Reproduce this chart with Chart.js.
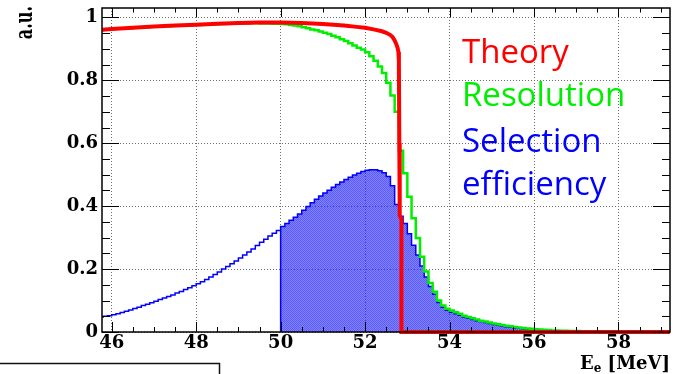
<!DOCTYPE html>
<html><head><meta charset="utf-8">
<script src="https://cdn.jsdelivr.net/npm/chart.js@4.4.1/dist/chart.umd.min.js"></script>
<style>html,body{margin:0;padding:0;background:#fff;overflow:hidden}canvas{display:block}</style>
</head><body>
<canvas id="c" width="677" height="374"></canvas>
<script>
// ---- data ----
const binStart = 45.7;   // lower edge of first bin [MeV]
const binWidth = 0.1;    // bin width [MeV]
// "Resolution" histogram (green), one value per bin
const resolution = [
 0.960,0.961,0.962,0.963,0.964,0.965,0.965,0.966,0.967,0.968,
 0.968,0.969,0.970,0.970,0.971,0.972,0.972,0.973,0.974,0.974,
 0.975,0.975,0.976,0.976,0.977,0.977,0.978,0.978,0.979,0.979,
 0.980,0.980,0.980,0.981,0.981,0.981,0.982,0.982,0.981,0.981,
 0.981,0.980,0.980,0.979,0.978,0.976,0.974,0.972,0.969,0.966,
 0.962,0.959,0.955,0.951,0.947,0.942,0.937,0.931,0.925,0.918,
 0.911,0.904,0.898,0.889,0.877,0.862,0.844,0.823,0.792,0.752,
 0.700,0.576,0.505,0.430,0.362,0.299,0.239,0.192,0.156,0.128,
 0.100,0.084,0.074,0.068,0.063,0.058,0.052,0.048,0.044,0.040,
 0.036,0.033,0.030,0.027,0.025,0.022,0.020,0.018,0.016,0.014,
 0.013,0.011,0.010,0.009,0.008,0.007,0.006,0.005,0.005,0.004,
 0.004,0.003,0.003,0.003,0.002,0.002,0.002,0.002,0.001,0.001,
 0.001,0.001,0.001,0,0,0,0,0,0,0,
 0,0,0,0,0,0
];
// "Selection efficiency" histogram (blue), one value per bin
const selection = [
 0.048,0.050,0.052,0.055,0.058,0.062,0.066,0.070,0.075,0.079,
 0.084,0.088,0.093,0.098,0.103,0.108,0.113,0.118,0.124,0.129,
 0.135,0.141,0.147,0.153,0.160,0.167,0.175,0.183,0.191,0.200,
 0.208,0.217,0.226,0.235,0.245,0.254,0.264,0.275,0.285,0.295,
 0.305,0.314,0.323,0.335,0.345,0.355,0.365,0.375,0.387,0.399,
 0.411,0.422,0.432,0.442,0.451,0.460,0.469,0.477,0.485,0.492,
 0.499,0.505,0.510,0.514,0.516,0.516,0.513,0.506,0.494,0.465,
 0.405,0.368,0.345,0.312,0.276,0.245,0.210,0.175,0.145,0.120,
 0.094,0.079,0.069,0.063,0.058,0.053,0.048,0.044,0.040,0.036,
 0.033,0.030,0.027,0.024,0.022,0.019,0.017,0.015,0.013,0.012,
 0.010,0.009,0.008,0.006,0.005,0.003,0,0,0,0,
 0,0,0,0,0,0,0,0,0,0,
 0,0,0,0,0,0,0,0,0,0,
 0,0,0,0,0,0
];
// "Theory" curve (red)
const theoryE = [45.77,46.0,46.5,47.0,47.5,48.0,48.5,49.0,49.5,50.0,50.5,51.0,51.5,51.8,52.0,52.2,52.4,52.5,52.6,52.65,52.7,52.74,52.77,52.79,52.80,52.81,52.82,52.86,52.86,59.22];
const theoryY = [0.961,0.963,0.967,0.971,0.974,0.977,0.980,0.982,0.984,0.984,0.982,0.979,0.974,0.970,0.967,0.962,0.956,0.951,0.944,0.938,0.927,0.915,0.903,0.890,0.860,0.600,0.370,0.360,0,0];
const effFillFrom = 50;            // selection histogram is filled from here on
const xTicks = [46,48,50,52,54,56,58];
const yTicks = [0,0.2,0.4,0.6,0.8,1];
const labels = {theory:'Theory', resolution:'Resolution', sel1:'Selection', sel2:'efficiency', x:'E', xSub:'e', xUnit:' [MeV]', y:'a.u.'};
const xRange = [45.77, 59.22];
const yRange = [0, 1.03];

// ---- build datasets ----
const edge = i => Math.round((binStart + i * binWidth) * 1000) / 1000;
function stepPts(vals, from, to) {
  const p = [];
  for (let i = from; i < to; i++) p.push({x: edge(i), y: vals[i]});
  p.push({x: edge(to), y: vals[to - 1]});
  return p;
}
const cutIdx = Math.round((effFillFrom - binStart) / binWidth);
const theoryPts = theoryE.map((e, i) => ({x: e, y: theoryY[i]}));
const resPts = stepPts(resolution, 0, resolution.length);
const selLeft = stepPts(selection, 0, cutIdx);
const selRight = [{x: effFillFrom, y: 0}].concat(stepPts(selection, cutIdx, selection.length));

// fine dithered fill pattern
const pc = document.createElement('canvas'); pc.width = 2; pc.height = 2;
const pctx = pc.getContext('2d');
pctx.fillStyle = 'rgba(40,40,250,0.76)'; pctx.fillRect(0,0,1,1); pctx.fillRect(1,1,1,1);
pctx.fillStyle = 'rgba(40,40,250,0.58)'; pctx.fillRect(1,0,1,1); pctx.fillRect(0,1,1,1);
const ctx0 = document.getElementById('c').getContext('2d');
const pattern = ctx0.createPattern(pc, 'repeat');

const GREEN = '#00ee00', RED = '#ff0000', BLUE = '#0000ff';
const SERIF = '"DejaVu Serif", serif';

const decor = {
  id: 'decor',
  afterDatasetsDraw(chart) {
    const {ctx, chartArea: a, scales: {x, y}} = chart;
    ctx.save();
    ctx.strokeStyle = '#000'; ctx.lineWidth = 1;
    const ln = (x1, y1, x2, y2) => { ctx.beginPath(); ctx.moveTo(x1, y1); ctx.lineTo(x2, y2); ctx.stroke(); };
    // x ticks: major every 2, minor every 0.5
    for (let k = 0; 46 + k * 0.5 <= xRange[1]; k++) {
      const v = 46 + k * 0.5;
      const px = Math.round(x.getPixelForValue(v)) + 0.5;
      const major = k % 4 === 0;
      ln(px, a.bottom, px, a.bottom - (major ? 10 : 5));
      ln(px, a.top, px, a.top + (major ? 9 : 4.5));
    }
    // y ticks: major every 0.2, minor every 0.05
    for (let k = 0; k <= 20; k++) {
      const py = Math.round(y.getPixelForValue(k * 0.05)) + 0.5;
      const major = k % 4 === 0;
      ln(a.left, py, a.left + (major ? 17 : 8), py);
      ln(a.right, py, a.right - (major ? 17 : 8), py);
    }
    // frame
    ctx.lineWidth = 1.5;
    ctx.strokeRect(a.left, a.top, a.right - a.left, a.bottom - a.top);
    ctx.restore();
  },
  afterDraw(chart) {
    const {ctx} = chart;
    ctx.save();
    // annotation texts
    ctx.font = '33px "Open Sans"';
    ctx.textAlign = 'left'; ctx.textBaseline = 'alphabetic';
    ctx.fillStyle = RED;   ctx.fillText(labels.theory, 462, 62.5);
    ctx.fillStyle = GREEN; ctx.fillText(labels.resolution, 462, 106);
    ctx.fillStyle = BLUE;  ctx.fillText(labels.sel1, 462, 152);
    ctx.fillText(labels.sel2, 462, 194.5);
    // axis titles
    ctx.fillStyle = '#000';
    ctx.font = 'bold 18px ' + SERIF;
    ctx.textAlign = 'right';
    const unitW = ctx.measureText(labels.xUnit).width;
    ctx.fillText(labels.xUnit, 670, 369);
    ctx.font = 'bold 12px ' + SERIF;
    const subW = ctx.measureText(labels.xSub).width;
    ctx.fillText(labels.xSub, 670 - unitW, 372);
    ctx.font = 'bold 18px ' + SERIF;
    ctx.fillText(labels.x, 670 - unitW - subW, 369);
    ctx.save();
    ctx.translate(32, 6);
    ctx.scale(1.5, 1);
    ctx.rotate(-Math.PI / 2);
    ctx.font = 'bold 16px ' + SERIF;
    ctx.textAlign = 'right';
    ctx.fillText(labels.y, 0, 0);
    ctx.restore();
    // box edge at bottom-left
    ctx.strokeStyle = '#111'; ctx.lineWidth = 1.5;
    ctx.beginPath(); ctx.moveTo(0, 363.5); ctx.lineTo(219.5, 363.5); ctx.lineTo(219.5, 374); ctx.stroke();
    ctx.restore();
  }
};

new Chart(ctx0, {
  type: 'line',
  data: {
    datasets: [
      {label: labels.theory, data: theoryPts, borderColor: RED, borderWidth: 4, pointRadius: 0, tension: 0, fill: false, order: 0, clip: {left: 0, right: 0, top: 5, bottom: 3}},
      {label: labels.resolution, data: resPts, stepped: true, borderColor: GREEN, borderWidth: 2.5, pointRadius: 0, fill: false, order: 1},
      {label: labels.sel1, data: selLeft, stepped: true, borderColor: BLUE, borderWidth: 1.5, pointRadius: 0, fill: false, order: 2},
      {label: labels.sel2, data: selRight, stepped: true, borderColor: BLUE, borderWidth: 1.5, pointRadius: 0, fill: 'origin', backgroundColor: pattern, order: 3}
    ]
  },
  options: {
    responsive: false, animation: false, events: [],
    layout: {padding: {left: 0, top: 8, right: 7, bottom: 0}},
    plugins: {legend: {display: false}, tooltip: {enabled: false}},
    scales: {
      x: {
        type: 'linear', min: xRange[0], max: xRange[1],
        afterBuildTicks(s) { s.ticks = xTicks.map(v => ({value: v})); },
        afterFit(s) { s.height = 42; s.paddingLeft = 0; s.paddingRight = 0; },
        ticks: {padding: 1, color: '#000', font: {family: SERIF, weight: 'bold', size: 18}, maxRotation: 0, autoSkip: false, callback: v => String(v)},
        grid: {drawTicks: false, color: '#6e6e6e', lineWidth: 1},
        border: {display: false, dash: [1, 2]}
      },
      y: {
        type: 'linear', min: yRange[0], max: yRange[1],
        afterBuildTicks(s) { s.ticks = yTicks.map(v => ({value: v})); },
        afterFit(s) { s.width = 102; s.paddingTop = 0; s.paddingBottom = 0; },
        ticks: {padding: 4, color: '#000', font: {family: SERIF, weight: 'bold', size: 18}, autoSkip: false, callback: v => String(Math.round(v * 10) / 10)},
        grid: {drawTicks: false, color: '#6e6e6e', lineWidth: 1},
        border: {display: false, dash: [1, 2]}
      }
    }
  },
  plugins: [decor]
});
</script>
</body></html>
